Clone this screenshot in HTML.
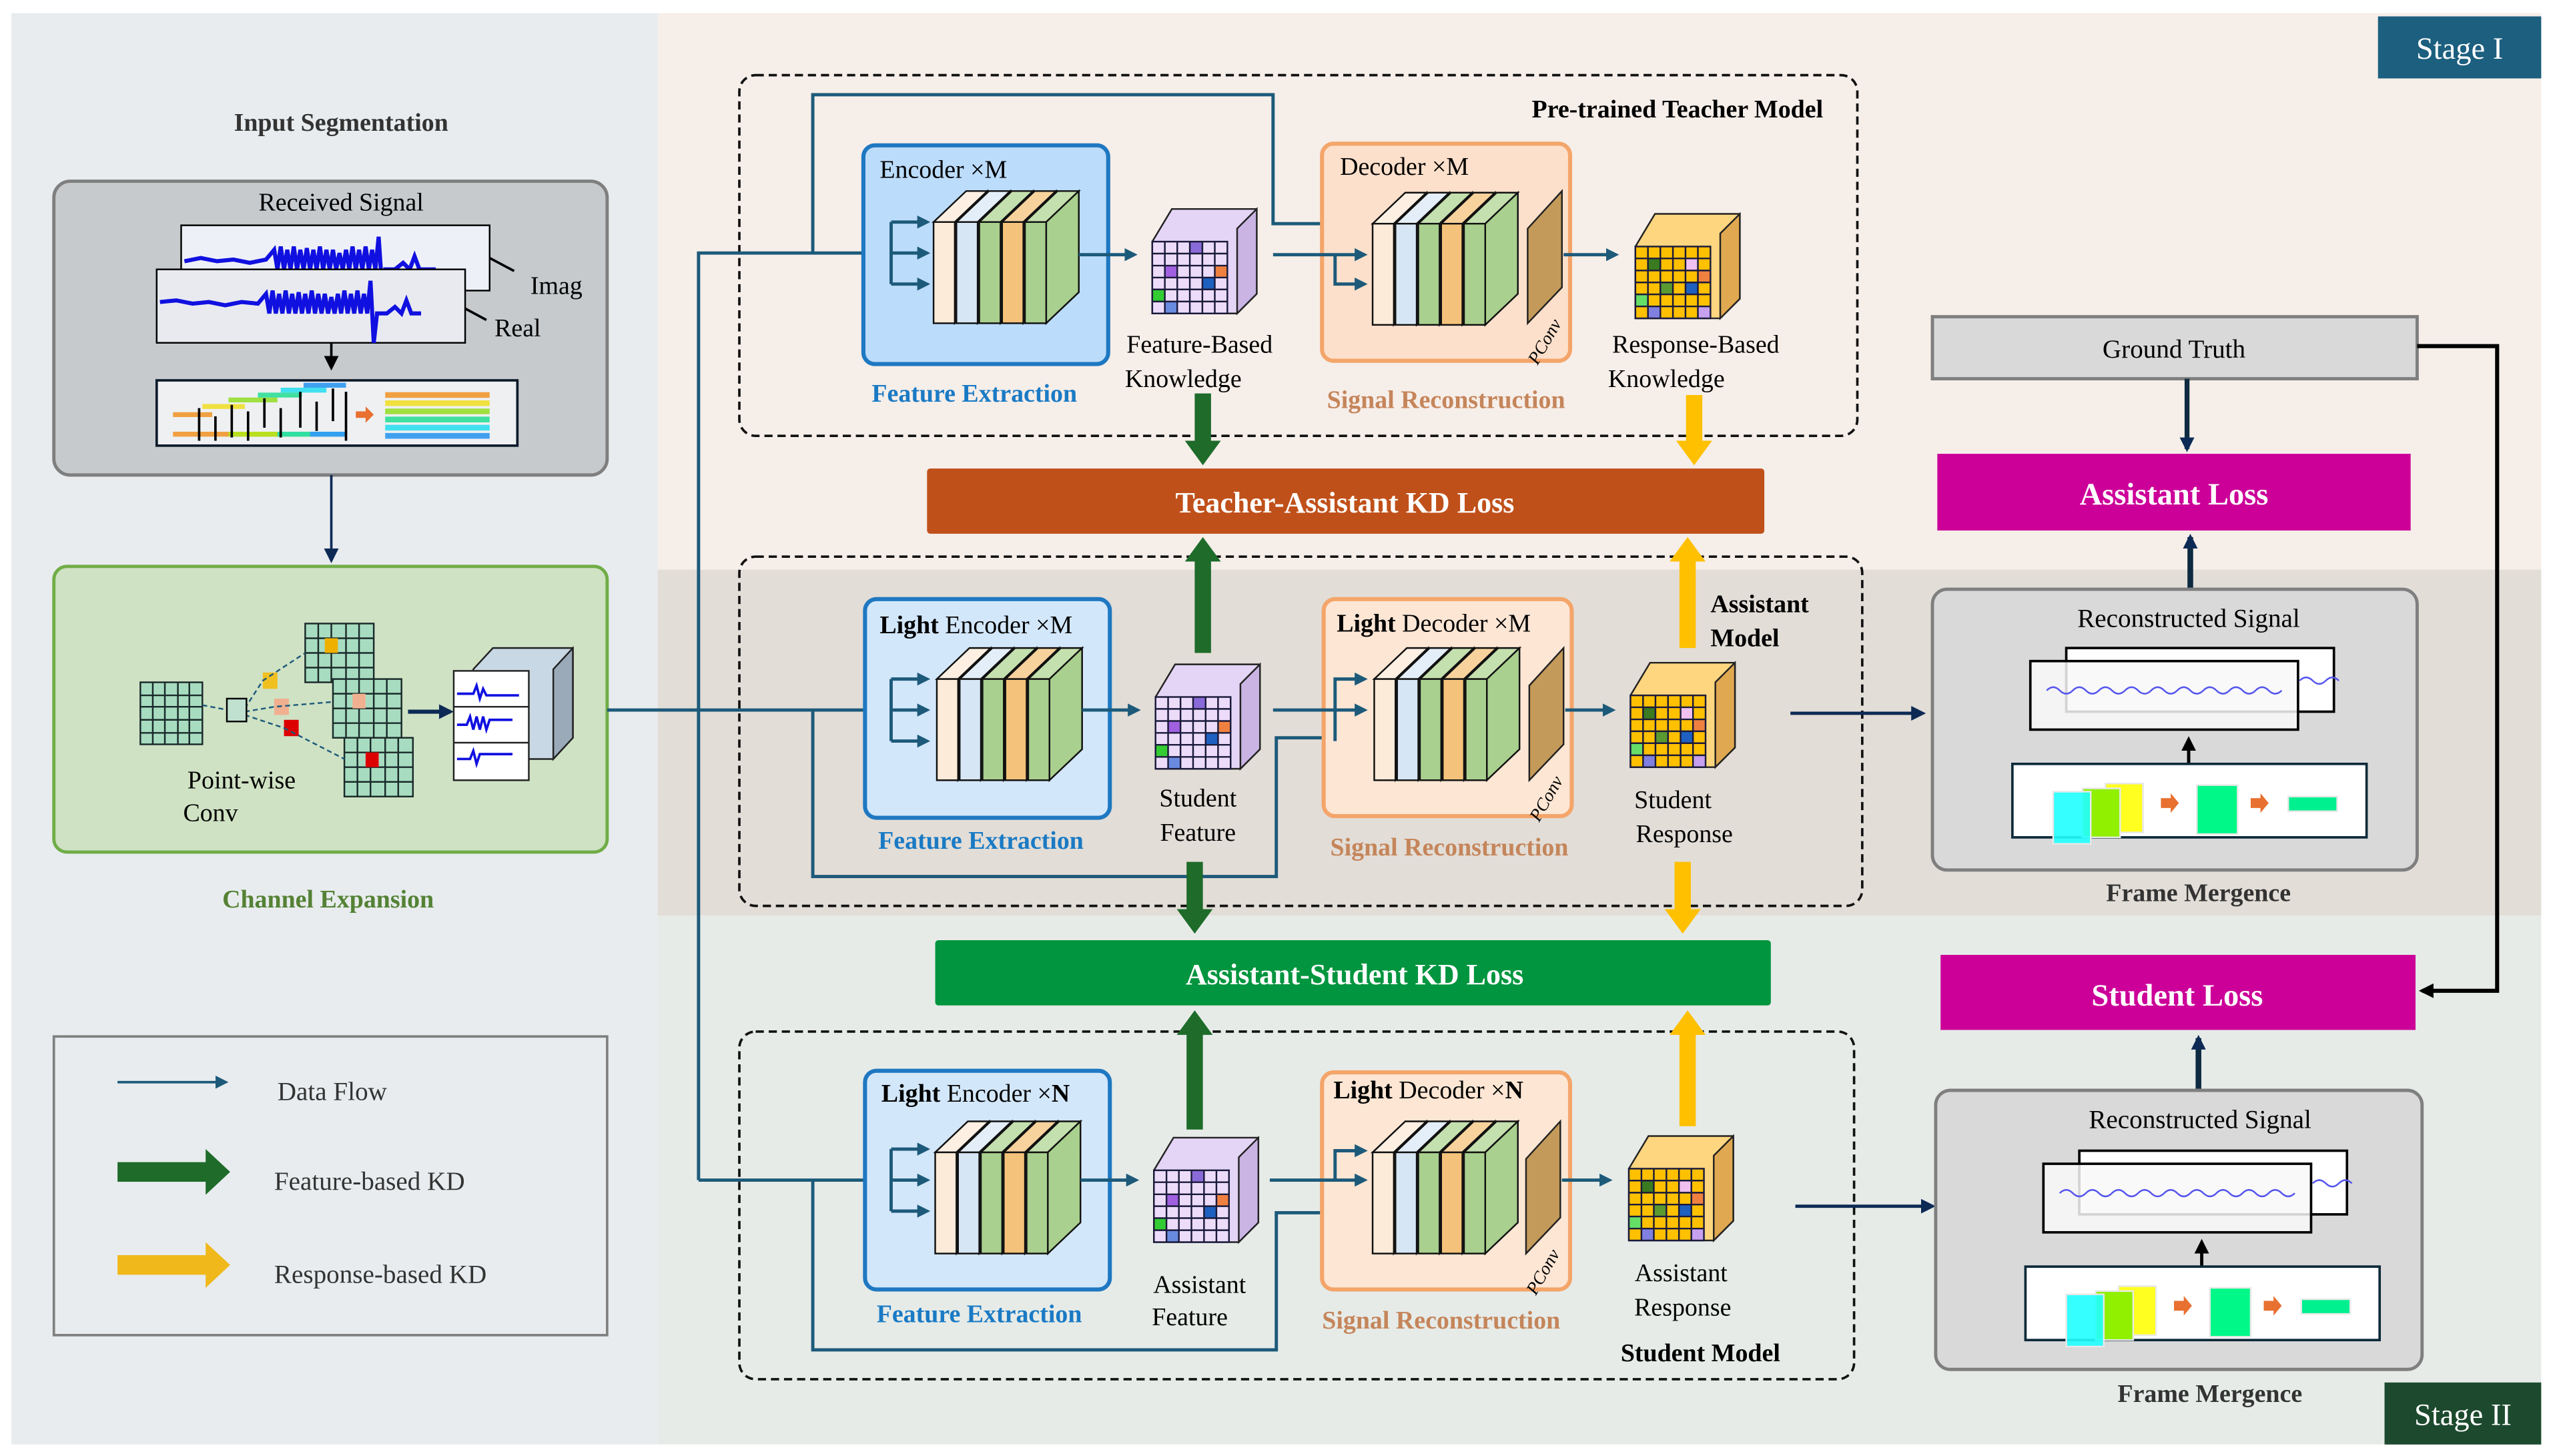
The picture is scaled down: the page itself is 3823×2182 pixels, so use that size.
<!DOCTYPE html>
<html><head><meta charset="utf-8"><style>
html,body{margin:0;padding:0;background:#fff;}
svg{display:block;font-family:"Liberation Serif","DejaVu Serif",serif;}
svg text{font-family:"Liberation Serif","DejaVu Serif",serif;}
</style></head><body>
<svg width="3823" height="2182" viewBox="0 0 1563 892" xmlns="http://www.w3.org/2000/svg" font-family="Liberation Serif, DejaVu Serif, serif">
<defs>
<marker id="ad" markerWidth="8" markerHeight="8" refX="6" refY="4" orient="auto" markerUnits="userSpaceOnUse"><path d="M0,0 L8,4 L0,8 Z" fill="#1d5a7a"/></marker>
<marker id="an" markerWidth="9" markerHeight="9" refX="7" refY="4.5" orient="auto" markerUnits="userSpaceOnUse"><path d="M0,0 L9,4.5 L0,9 Z" fill="#0d2a55"/></marker>
<marker id="ak" markerWidth="9" markerHeight="9" refX="7" refY="4.5" orient="auto" markerUnits="userSpaceOnUse"><path d="M0,0 L9,4.5 L0,9 Z" fill="#000"/></marker>
<g id="stk" stroke="#111" stroke-width="1">
 <polygon points="0,0 20,-19 33,-19 13,0" fill="#fdf0e3"/><polygon points="13,0 33,-19 33,43 13,62" fill="#c8b8a8"/><rect x="0" y="0" width="13" height="62" fill="#fdebd9"/>
 <polygon points="14,0 34,-19 47,-19 27,0" fill="#e3eef8"/><polygon points="27,0 47,-19 47,43 27,62" fill="#9fb3c6"/><rect x="14" y="0" width="13" height="62" fill="#d6e6f4"/>
 <polygon points="28,0 48,-19 61,-19 41,0" fill="#c4e0ae"/><polygon points="41,0 61,-19 61,43 41,62" fill="#86b06a"/><rect x="28" y="0" width="13" height="62" fill="#a9d08e"/>
 <polygon points="42,0 62,-19 75,-19 55,0" fill="#f7d29c"/><polygon points="55,0 75,-19 75,43 55,62" fill="#c89a55"/><rect x="42" y="0" width="13" height="62" fill="#f4c27a"/>
 <polygon points="56,0 76,-19 89,-19 69,0" fill="#c4e0ae"/><polygon points="69,0 89,-19 89,43 69,62" fill="#a9d08e"/><rect x="56" y="0" width="13" height="62" fill="#a9d08e"/>
</g>
<g id="grid" stroke="#1a1a3a" stroke-width="1" fill="none">
 <rect x="0" y="0" width="46" height="44"/>
 <path d="M7.7,0V44M15.3,0V44M23,0V44M30.7,0V44M38.3,0V44M0,7.3H46M0,14.7H46M0,22H46M0,29.3H46M0,36.7H46"/>
</g>
<g id="fcube">
 <polygon points="12,-20 64,-20 64,32 52,44 0,44 0,0" fill="#e4d4f6" stroke="#222" stroke-width="1"/>
 <polygon points="52,-8 64,-20 64,32 52,44" fill="#c9b4e4" stroke="#222" stroke-width="1"/>
 <rect x="0" y="0" width="46" height="44" fill="#ecdcfa"/>
 <rect x="23" y="0" width="7.7" height="7.3" fill="#8a6ad8"/><rect x="7.7" y="14.7" width="7.7" height="7.3" fill="#a060e0"/><rect x="38.3" y="14.7" width="7.7" height="7.3" fill="#f08040"/><rect x="30.7" y="22" width="7.7" height="7.3" fill="#1e60c0"/><rect x="0" y="29.3" width="7.7" height="7.3" fill="#3c3"/><rect x="7.7" y="36.7" width="7.7" height="7.3" fill="#6a8ae0"/>
 <use href="#grid"/>
</g>
<g id="rcube">
 <polygon points="12,-20 64,-20 64,32 52,44 0,44 0,0" fill="#ffd680" stroke="#222" stroke-width="1"/>
 <polygon points="52,-8 64,-20 64,32 52,44" fill="#e0a850" stroke="#222" stroke-width="1"/>
 <rect x="0" y="0" width="46" height="44" fill="#ffc000"/>
 <rect x="7.7" y="7.3" width="7.7" height="7.3" fill="#3a7a20"/><rect x="30.7" y="7.3" width="7.7" height="7.3" fill="#f0c0f0"/><rect x="38.3" y="14.7" width="7.7" height="7.3" fill="#f08040"/><rect x="15.3" y="22" width="7.7" height="7.3" fill="#5a9a30"/><rect x="30.7" y="22" width="7.7" height="7.3" fill="#1e60c0"/><rect x="0" y="29.3" width="7.7" height="7.3" fill="#6d6"/><rect x="38.3" y="36.7" width="7.7" height="7.3" fill="#c8a0f0"/><rect x="7.7" y="36.7" width="7.7" height="7.3" fill="#8080e0"/>
 <use href="#grid"/>
</g>
<g id="pconv">
 <polygon points="0,62 0,4 21,-19 21,40" fill="#c49a5a" stroke="#222" stroke-width="1"/>
 <text x="0" y="0" font-size="11" font-style="italic" transform="translate(6,88) rotate(-60)">PConv</text>
</g>
<g id="inarr" stroke="#1d5a7a" stroke-width="2" fill="none">
 <path d="M0,19 V-19 M0,0 H22" marker-end="url(#ad)"/>
 <path d="M0,-19 H22" marker-end="url(#ad)"/><path d="M0,19 H22" marker-end="url(#ad)"/>
</g>
<g id="frame">
 <rect x="82" y="36" width="164" height="39" fill="#fff" stroke="#000" stroke-width="1.5"/>
 <rect x="60" y="44" width="164" height="42" fill="#f8f8f8" fill-opacity="0.85" stroke="#000" stroke-width="1.5"/>
 <path d="M70,62 q4,-4 8,0 t8,0 t8,0 t8,0 t8,0 t8,0 t8,0 t8,0 t8,0 t8,0 t8,0 t8,0 t8,0 t8,0 t8,0 t8,0 t8,0 t8,0" stroke="#5555ee" fill="none" stroke-width="1"/>
 <path d="M225,56 q4,-4 8,0 t8,0 t8,0" stroke="#5555ee" fill="none" stroke-width="1"/>
 <line x1="157" y1="107" x2="157" y2="92" stroke="#000" stroke-width="2" marker-end="url(#ak)"/>
 <rect x="49" y="107" width="217" height="45" fill="#fff" stroke="#0d2a3a" stroke-width="1.5"/>
 <rect x="106" y="119" width="23" height="30" fill="#ffff20" stroke="#e8e8e8"/>
 <rect x="92" y="122" width="23" height="30" fill="#90f000" stroke="#e8e8e8"/>
 <rect x="74" y="124" width="23" height="32" fill="#20ffff" fill-opacity="0.9" stroke="#e8e8e8"/>
 <polygon points="140,128 146,128 146,125 151,131 146,137 146,134 140,134" fill="#e87030"/>
 <rect x="162" y="120" width="25" height="30" fill="#00f888" stroke="#e8e8e8"/>
 <polygon points="195,128 201,128 201,125 206,131 201,137 201,134 195,134" fill="#e87030"/>
 <rect x="218" y="127" width="30" height="9" fill="#00f090" stroke="#e8e8e8"/>
</g>
</defs>

<rect x="0" y="0" width="1563" height="892" fill="#fff"/>
<rect x="7" y="8" width="396" height="877" fill="#e8ecee"/>
<rect x="403" y="8" width="1154" height="341" fill="#f6eee9"/>
<rect x="403" y="349" width="1154" height="212" fill="#e2ddd7"/>
<rect x="403" y="561" width="1154" height="324" fill="#e6ebe8"/>
<rect x="1457" y="10" width="100" height="38" fill="#1c5f7f"/>
<text x="1507" y="36" font-size="19" fill="#fff" text-anchor="middle">Stage I</text>
<rect x="1461" y="847" width="96" height="38" fill="#1d4a2e"/>
<text x="1509" y="873" font-size="19" fill="#fff" text-anchor="middle">Stage II</text>

<text x="209" y="80" font-size="15.5" font-weight="bold" text-anchor="middle" fill="#333">Input Segmentation</text>
<rect x="33" y="111" width="339" height="180" rx="10" fill="#c6cacd" stroke="#7f7f7f" stroke-width="2"/>
<text x="209" y="129" font-size="15.5" text-anchor="middle">Received Signal</text>
<rect x="111" y="138" width="189" height="40" fill="#eef0f8" stroke="#000" stroke-width="1"/>
<path d="M113,160 l10,-2 l10,2 l10,-1 l10,2 l10,-2 l5,-6 l2,12 l2,-14 l2,14 l2,-12 l2,12 l2,-14 l2,14 l2,-12 l2,12 l2,-13 l2,13 l2,-12 l2,12 l2,-14 l2,14 l2,-12 l2,12 l2,-12 l2,12 l2,-10 l2,10 l2,-12 l2,12 l2,-14 l2,14 l2,-12 l2,12 l2,-14 l2,14 l2,-12 l2,12 l2,-20 l2,30 l2,-10 l6,0 l5,-4 l4,4 l3,-8 l3,8 l10,0" stroke="#1010e0" fill="none" stroke-width="2.5"/>
<line x1="300" y1="158" x2="315" y2="166" stroke="#000" stroke-width="1.5"/>
<text x="325" y="180" font-size="15.5">Imag</text>
<rect x="96" y="165" width="189" height="45" fill="#e8eaf0" stroke="#000" stroke-width="1"/>
<path d="M98,185 l10,-1 l10,2 l10,-1 l10,2 l10,-2 l10,1 l5,-6 l2,12 l2,-14 l2,14 l2,-12 l2,12 l2,-14 l2,14 l2,-12 l2,12 l2,-13 l2,13 l2,-12 l2,12 l2,-14 l2,14 l2,-12 l2,12 l2,-12 l2,12 l2,-10 l2,10 l2,-12 l2,12 l2,-14 l2,14 l2,-12 l2,12 l2,-14 l2,14 l2,-12 l2,12 l2,-20 l2,38 l2,-18 l6,0 l5,-4 l4,4 l3,-8 l3,8 l6,0" stroke="#1010e0" fill="none" stroke-width="2.5"/>
<line x1="285" y1="189" x2="298" y2="196" stroke="#000" stroke-width="1.5"/>
<text x="303" y="206" font-size="15.5">Real</text>
<line x1="203" y1="210" x2="203" y2="225" stroke="#000" stroke-width="1.5" marker-end="url(#ak)"/>
<rect x="96" y="233" width="221" height="40" fill="#eef0f2" stroke="#0d1a2a" stroke-width="1.5"/>
<g stroke-width="3">
<line x1="106" y1="266" x2="212" y2="266" stroke="#f0a040"/>
<line x1="140" y1="266" x2="170" y2="266" stroke="#b8e020"/>
<line x1="170" y1="266" x2="190" y2="266" stroke="#30e0a0"/>
<line x1="190" y1="266" x2="212" y2="266" stroke="#30a0f0"/>
<line x1="106" y1="254" x2="130" y2="254" stroke="#f0a040"/>
<line x1="124" y1="249" x2="150" y2="249" stroke="#f0e040"/>
<line x1="140" y1="245" x2="170" y2="245" stroke="#a0e040"/>
<line x1="158" y1="242" x2="185" y2="242" stroke="#40e0a0"/>
<line x1="172" y1="239" x2="200" y2="239" stroke="#40e0f0"/>
<line x1="186" y1="236" x2="212" y2="236" stroke="#40a0f0"/>
</g>
<path d="M122,250V270M132,255V270M142,248V268M152,252V270M162,244V262M172,250V268M184,240V262M194,246V264M204,238V258M212,240V270" stroke="#000" stroke-width="1.5"/>
<polygon points="218,252 224,252 224,249 229,254 224,259 224,256 218,256" fill="#e87030"/>
<g stroke-width="3.5"><line x1="236" y1="242" x2="300" y2="242" stroke="#f0a040"/><line x1="236" y1="247" x2="300" y2="247" stroke="#f0e040"/><line x1="236" y1="252" x2="300" y2="252" stroke="#a0e040"/><line x1="236" y1="257" x2="300" y2="257" stroke="#40e0a0"/><line x1="236" y1="262" x2="300" y2="262" stroke="#40e0f0"/><line x1="236" y1="267" x2="300" y2="267" stroke="#40a0f0"/></g>
<line x1="203" y1="291" x2="203" y2="343" stroke="#0d2a55" stroke-width="1.5" marker-end="url(#an)"/>

<rect x="33" y="347" width="339" height="175" rx="8" fill="#cfe2c4" stroke="#70ad47" stroke-width="2"/>
<g stroke="#1a2a2a" stroke-width="1" fill="#a8dcc0">
<rect x="86" y="418" width="38" height="38"/><path d="M93.6,418V456M101,418V456M109,418V456M116,418V456M86,426H124M86,433H124M86,441H124M86,449H124" fill="none"/>
<rect x="187" y="382" width="42" height="36"/><path d="M195,382V418M203,382V418M212,382V418M220,382V418M187,391H229M187,400H229M187,409H229" fill="none"/>
<rect x="204" y="416" width="42" height="36"/><path d="M212,416V452M220,416V452M229,416V452M237,416V452M204,425H246M204,434H246M204,443H246" fill="none"/>
<rect x="211" y="452" width="42" height="36"/><path d="M219,452V488M227,452V488M236,452V488M244,452V488M211,461H253M211,470H253M211,479H253" fill="none"/>
</g>
<rect x="199" y="391" width="8" height="9" fill="#f0b000"/><rect x="216" y="425" width="8" height="9" fill="#f0b090"/><rect x="224" y="461" width="8" height="9" fill="#d00"/>
<rect x="161" y="412" width="9" height="10" fill="#f0c020"/><rect x="168" y="428" width="9" height="10" fill="#f0b090"/><rect x="174" y="441" width="9" height="10" fill="#d00"/>
<path d="M124,432 L140,435 M150,434 L161,417 L187,400 M150,436 L168,433 L204,430 M150,438 L174,446 L211,465" stroke="#1d5a7a" stroke-dasharray="3,2" fill="none"/>
<rect x="139" y="428" width="12" height="14" fill="#c0e0d0" stroke="#000"/>
<line x1="250" y1="436" x2="276" y2="436" stroke="#0d2a55" stroke-width="2.5" marker-end="url(#an)"/>
<polygon points="290,410 302,397 351,397 351,452 339,465 290,465" fill="#c8d8e4" stroke="#222"/>
<polygon points="339,410 351,397 351,452 339,465" fill="#9aaab8" stroke="#222"/>
<rect x="278" y="411" width="46" height="67" fill="#fff" stroke="#222"/>
<path d="M280,425 h10 l2,-5 l2,8 l2,-6 l2,4 h20 M280,444 h6 l2,-5 l2,8 l2,-8 l2,8 l2,-8 l2,8 l2,-6 h14 M280,465 h8 l2,-5 l2,8 l2,-6 h20" stroke="#1010e0" fill="none" stroke-width="1.5"/>
<path d="M278,433H324M278,455H324" stroke="#222"/>
<text x="148" y="483" font-size="15.5" text-anchor="middle">Point-wise</text>
<text x="129" y="503" font-size="15.5" text-anchor="middle">Conv</text>
<text x="201" y="556" font-size="15.5" font-weight="bold" fill="#548235" text-anchor="middle">Channel Expansion</text>

<rect x="33" y="635" width="339" height="183" fill="none" stroke="#7f7f7f" stroke-width="1.5"/>
<line x1="72" y1="663" x2="138" y2="663" stroke="#1d5a7a" stroke-width="1.5" marker-end="url(#ad)"/>
<text x="170" y="674" font-size="16" fill="#333">Data Flow</text>
<polygon points="72,712 126,712 126,704 141,718 126,732 126,724 72,724" fill="#1e6b2a"/>
<text x="168" y="729" font-size="16" fill="#333">Feature-based KD</text>
<polygon points="72,769 126,769 126,761 141,775 126,789 126,781 72,781" fill="#f0b81a"/>
<text x="168" y="786" font-size="16" fill="#333">Response-based KD</text>

<rect x="453" y="46" width="685" height="221" rx="10" fill="none" stroke="#111" stroke-width="1.5" stroke-dasharray="5,3"/>
<rect x="453" y="341" width="688" height="214" rx="10" fill="none" stroke="#111" stroke-width="1.5" stroke-dasharray="5,3"/>
<rect x="453" y="632" width="683" height="213" rx="10" fill="none" stroke="#111" stroke-width="1.5" stroke-dasharray="5,3"/>
<text x="1117" y="72" font-size="15.5" font-weight="bold" text-anchor="end">Pre-trained Teacher Model</text>
<text x="1048" y="375" font-size="15.5" font-weight="bold">Assistant</text>
<text x="1048" y="396" font-size="15.5" font-weight="bold">Model</text>
<text x="993" y="834" font-size="15.5" font-weight="bold">Student Model</text>

<g stroke="#1d5a7a" stroke-width="2" fill="none">
<path d="M372,435 H545"/>
<path d="M428,723 V155 H546"/>
<path d="M428,723 H546"/>
<path d="M498,155 V58 H780 V137 H836" marker-end="url(#ad)"/>
<path d="M498,435 V537 H782 V452 H836" marker-end="url(#ad)"/>
<path d="M498,723 V827 H782 V743 H836" marker-end="url(#ad)"/>
</g>

<rect x="529" y="89" width="150" height="134" rx="7" fill="#bcdcfb" stroke="#1f78c1" stroke-width="2.5"/>
<rect x="530" y="367" width="150" height="134" rx="7" fill="#d3e7fb" stroke="#1f78c1" stroke-width="2.5"/>
<rect x="530" y="656" width="150" height="134" rx="7" fill="#d3e7fb" stroke="#1f78c1" stroke-width="2.5"/>
<text x="539" y="109" font-size="15.5">Encoder ×M</text>
<text x="539" y="388" font-size="15.5"><tspan font-weight="bold">Light</tspan> Encoder ×M</text>
<text x="540" y="675" font-size="15.5"><tspan font-weight="bold">Light</tspan> Encoder ×<tspan font-weight="bold">N</tspan></text>
<use href="#inarr" x="546" y="155"/><use href="#inarr" x="546" y="435"/><use href="#inarr" x="546" y="723"/>
<use href="#stk" x="572" y="136"/><use href="#stk" x="574" y="416"/><use href="#stk" x="573" y="706"/>
<text x="597" y="246" font-size="15.5" font-weight="bold" fill="#1a7ac4" text-anchor="middle">Feature Extraction</text>
<text x="601" y="520" font-size="15.5" font-weight="bold" fill="#1a7ac4" text-anchor="middle">Feature Extraction</text>
<text x="600" y="810" font-size="15.5" font-weight="bold" fill="#1a7ac4" text-anchor="middle">Feature Extraction</text>
<g stroke="#1d5a7a" stroke-width="2"><line x1="661" y1="156" x2="695" y2="156" marker-end="url(#ad)"/><line x1="663" y1="435" x2="697" y2="435" marker-end="url(#ad)"/><line x1="662" y1="723" x2="696" y2="723" marker-end="url(#ad)"/></g>

<use href="#fcube" x="706" y="148"/><use href="#fcube" x="708" y="427"/><use href="#fcube" x="707" y="717"/>
<text x="735" y="216" font-size="15.5" text-anchor="middle">Feature-Based</text>
<text x="725" y="237" font-size="15.5" text-anchor="middle">Knowledge</text>
<text x="734" y="494" font-size="15.5" text-anchor="middle">Student</text>
<text x="734" y="515" font-size="15.5" text-anchor="middle">Feature</text>
<text x="735" y="792" font-size="15.5" text-anchor="middle">Assistant</text>
<text x="729" y="812" font-size="15.5" text-anchor="middle">Feature</text>

<rect x="810" y="88" width="152" height="133" rx="7" fill="#fde0cb" stroke="#f4a56a" stroke-width="2.5"/>
<rect x="811" y="367" width="152" height="133" rx="7" fill="#fde6d4" stroke="#f4a56a" stroke-width="2.5"/>
<rect x="810" y="657" width="152" height="133" rx="7" fill="#fde6d4" stroke="#f4a56a" stroke-width="2.5"/>
<text x="821" y="107" font-size="15.5">Decoder ×M</text>
<text x="819" y="387" font-size="15.5"><tspan font-weight="bold">Light</tspan> Decoder ×M</text>
<text x="817" y="673" font-size="15.5"><tspan font-weight="bold">Light</tspan> Decoder ×<tspan font-weight="bold">N</tspan></text>
<g stroke="#1d5a7a" stroke-width="2" fill="none">
<path d="M780,156 H836" marker-end="url(#ad)"/><path d="M818,156 V174 H836" marker-end="url(#ad)"/>
<path d="M780,435 H836" marker-end="url(#ad)"/><path d="M818,435 V416 H836" marker-end="url(#ad)"/><path d="M818,435 V454"/>
<path d="M778,723 H836" marker-end="url(#ad)"/><path d="M818,723 V705 H836" marker-end="url(#ad)"/>
</g>
<use href="#stk" x="841" y="137"/><use href="#stk" x="842" y="416"/><use href="#stk" x="841" y="706"/>
<use href="#pconv" x="936" y="136"/><use href="#pconv" x="937" y="416"/><use href="#pconv" x="935" y="706"/>
<g stroke="#1d5a7a" stroke-width="2"><line x1="958" y1="156" x2="990" y2="156" marker-end="url(#ad)"/><line x1="959" y1="435" x2="988" y2="435" marker-end="url(#ad)"/><line x1="957" y1="723" x2="986" y2="723" marker-end="url(#ad)"/></g>
<text x="886" y="250" font-size="15.5" font-weight="bold" fill="#c5855a" text-anchor="middle">Signal  Reconstruction</text>
<text x="888" y="524" font-size="15.5" font-weight="bold" fill="#c5855a" text-anchor="middle">Signal  Reconstruction</text>
<text x="883" y="814" font-size="15.5" font-weight="bold" fill="#c5855a" text-anchor="middle">Signal  Reconstruction</text>

<use href="#rcube" x="1002" y="151"/><use href="#rcube" x="999" y="426"/><use href="#rcube" x="998" y="716"/>
<text x="1039" y="216" font-size="15.5" text-anchor="middle">Response-Based</text>
<text x="1021" y="237" font-size="15.5" text-anchor="middle">Knowledge</text>
<text x="1025" y="495" font-size="15.5" text-anchor="middle">Student</text>
<text x="1032" y="516" font-size="15.5" text-anchor="middle">Response</text>
<text x="1030" y="785" font-size="15.5" text-anchor="middle">Assistant</text>
<text x="1031" y="806" font-size="15.5" text-anchor="middle">Response</text>

<rect x="568" y="287" width="513" height="40" rx="2" fill="#c0501a"/>
<text x="824" y="314" font-size="18" font-weight="bold" fill="#fff" text-anchor="middle">Teacher-Assistant KD Loss</text>
<rect x="573" y="576" width="512" height="40" rx="2" fill="#00953e"/>
<text x="830" y="603" font-size="18" font-weight="bold" fill="#fff" text-anchor="middle">Assistant-Student KD Loss</text>

<g fill="#1e6b2a">
<polygon points="732,241 742,241 742,270 748,270 737,285 726,270 732,270"/>
<polygon points="732,400 742,400 742,344 748,344 737,329 726,344 732,344"/>
<polygon points="727,528 737,528 737,557 743,557 732,572 721,557 727,557"/>
<polygon points="727,692 737,692 737,634 743,634 732,619 721,634 727,634"/>
</g>
<g fill="#ffc000">
<polygon points="1033,242 1043,242 1043,270 1049,270 1038,285 1027,270 1033,270"/>
<polygon points="1029,397 1039,397 1039,344 1045,344 1034,329 1023,344 1029,344"/>
<polygon points="1026,528 1036,528 1036,557 1042,557 1031,572 1020,557 1026,557"/>
<polygon points="1029,690 1039,690 1039,634 1045,634 1034,619 1023,634 1029,634"/>
</g>

<g stroke="#0d2a55" stroke-width="2" fill="none">
<path d="M1097,437 H1178" marker-end="url(#an)"/>
<path d="M1100,739 H1184" marker-end="url(#an)"/>
</g>
<rect x="1184" y="194" width="297" height="38" fill="#d9d9d9" stroke="#7f7f7f" stroke-width="2"/>
<text x="1332" y="219" font-size="16" text-anchor="middle">Ground Truth</text>
<line x1="1340" y1="232" x2="1340" y2="275" stroke="#0d2a40" stroke-width="3" marker-end="url(#an)"/>
<rect x="1187" y="278" width="290" height="47" fill="#cc0099"/>
<text x="1332" y="309" font-size="19" font-weight="bold" fill="#fff" text-anchor="middle">Assistant Loss</text>
<line x1="1342" y1="361" x2="1342" y2="329" stroke="#0d2a40" stroke-width="3.5" marker-end="url(#an)"/>
<rect x="1184" y="361" width="297" height="172" rx="9" fill="#d9d9d9" stroke="#7f7f7f" stroke-width="2"/>
<text x="1341" y="384" font-size="16" text-anchor="middle">Reconstructed Signal</text>
<use href="#frame" x="1184" y="361"/>
<text x="1347" y="552" font-size="15.5" font-weight="bold" fill="#333" text-anchor="middle">Frame Mergence</text>

<path d="M1481,212 H1530 V607 H1484" stroke="#000" stroke-width="2.5" fill="none" marker-end="url(#ak)"/>
<rect x="1189" y="585" width="291" height="46" fill="#cc0099"/>
<text x="1334" y="616" font-size="19" font-weight="bold" fill="#fff" text-anchor="middle">Student Loss</text>
<line x1="1347" y1="668" x2="1347" y2="636" stroke="#0d2a40" stroke-width="3.5" marker-end="url(#an)"/>
<rect x="1186" y="668" width="298" height="171" rx="9" fill="#d9d9d9" stroke="#7f7f7f" stroke-width="2"/>
<text x="1348" y="691" font-size="16" text-anchor="middle">Reconstructed Signal</text>
<use href="#frame" x="1192" y="669"/>
<text x="1354" y="859" font-size="15.5" font-weight="bold" fill="#333" text-anchor="middle">Frame Mergence</text>
</svg>
</body></html>
